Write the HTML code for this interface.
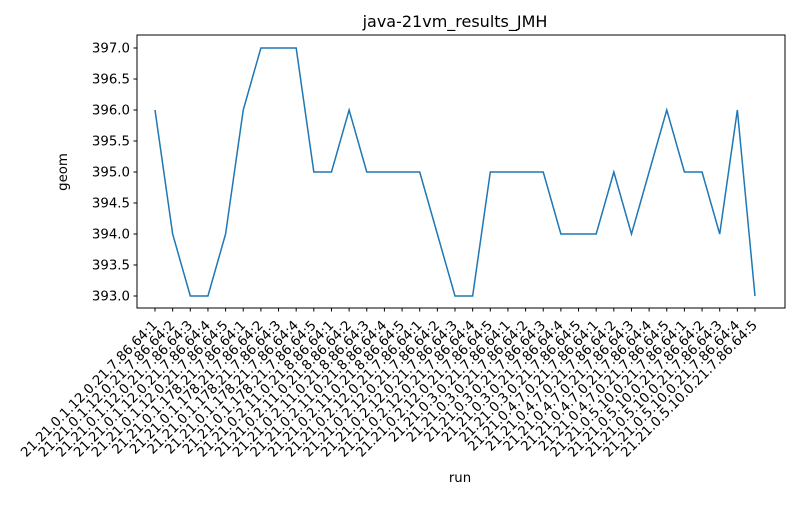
<!DOCTYPE html>
<html><head><meta charset="utf-8"><style>
body{margin:0;background:#fff}
svg{font-family:"DejaVu Sans","Liberation Sans",sans-serif}
</style></head><body>
<svg id="chart" width="800" height="500" viewBox="0 0 800 500" xmlns="http://www.w3.org/2000/svg">
<rect width="800" height="500" fill="#fff"/>
<text x="455" y="27" text-anchor="middle" font-size="16">java-21vm_results_JMH</text>
<text x="460" y="482" text-anchor="middle" font-size="13.3">run</text>
<text transform="translate(67,172) rotate(-90)" text-anchor="middle" font-size="13.3">geom</text>
<g id="plot"></g>
</svg>
<script>
const groups = ["21.21.0.1.12.0.21.7.86.64","21.21.0.1.178.21.7.86.64","21.21.0.2.11.0.21.8.86.64","21.21.0.2.12.0.21.7.86.64","21.21.0.3.0.21.7.86.64","21.21.0.4.7.0.21.7.86.64","21.21.0.5.10.0.21.7.86.64"];
const categories = [];
groups.forEach(g => { for (let i = 1; i <= 5; i++) categories.push(g + ":" + i); });
const values = [396,394,393,393,394,396,397,397,397,395,395,396,395,395,395,395,394,393,393,395,395,395,395,394,394,394,395,394,395,396,395,395,394,396,393];
const yTicks = [393.0,393.5,394.0,394.5,395.0,395.5,396.0,396.5,397.0];

const NS = "http://www.w3.org/2000/svg";
const L = 137, R = 785, T = 35, B = 308;
const x0 = 155, x1 = 755;
const xs = i => x0 + (x1 - x0) * i / (categories.length - 1);
const ys = v => 296 - (v - 393) * (296 - 48) / 4;
const g = document.getElementById('plot');
function mk(tag, attrs) { const e = document.createElementNS(NS, tag); for (const k in attrs) e.setAttribute(k, attrs[k]); g.appendChild(e); return e; }

const frame = mk('rect', {x:L, y:T, width:R-L, height:B-T, fill:'none', stroke:'#000', 'stroke-width':1});



yTicks.forEach(v => {
  const y = ys(v);
  const t = mk('line', {x1:L-3.5, x2:L, y1:y, y2:y, stroke:'#000'});
  
  
  const lb = mk('text', {x:L-7, y:y+4.5, 'text-anchor':'end', 'font-size':13.3});
  lb.textContent = v.toFixed(1);
  
  
});

categories.forEach((c, i) => {
  const x = xs(i);
  const t = mk('line', {x1:x, x2:x, y1:B, y2:B+3.5, stroke:'#000'});
  
  
  const lb = mk('text', {transform:`translate(${x+3},${B+18}) rotate(-45)`, 'text-anchor':'end', 'font-size':13.3});
  lb.textContent = c;
  
  
});

const line = mk('polyline', {points: values.map((v, i) => xs(i) + ',' + ys(v)).join(' '), fill:'none', stroke:'#1f77b4', 'stroke-width':1.5});


</script>
</body></html>
